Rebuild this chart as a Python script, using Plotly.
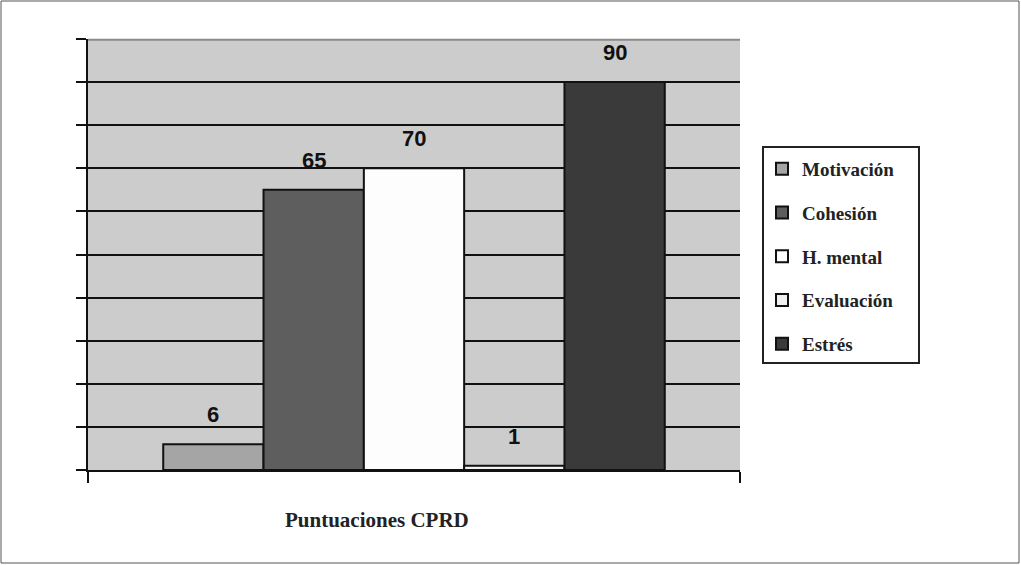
import plotly.graph_objects as go

# CPRD scale scores
categories = ["Motivación", "Cohesión", "H. mental", "Evaluación", "Estrés"]
scores = [6, 65, 70, 1, 90]
bar_colors = ["#a5a5a5", "#5e5e5e", "#fdfdfd", "#f1f1f1", "#3a3a3a"]
y_ticks = list(range(0, 101, 10))
axis_title = "Puntuaciones CPRD"

W, H = 1021, 565
L, R, T, B = 88, 281, 39, 95
pw, ph = W - L - R, H - T - B


def px_x(p):
    return (p - L) / pw


def px_y(p):
    return (H - B - p) / ph


fig = go.Figure()
for i, (name, val, col) in enumerate(zip(categories, scores, bar_colors)):
    fig.add_trace(go.Bar(
        x=[i], y=[val], name=f"<b>{name}</b>", width=1,
        marker=dict(color=col, line=dict(color="#111111", width=2)),
        legendgroup=name,
    ))
    fig.add_annotation(
        x=i, y=val, text=f"<b>{val}</b>", showarrow=False,
        yanchor="bottom", yshift=15,
        font=dict(family="Liberation Sans, Arial", size=22, color="#111111"),
    )

# top edge line of the value area
fig.add_shape(
    type="line", xref="paper", yref="paper", x0=0, x1=1, y0=0.998, y1=0.998,
    line=dict(color="#8a8a8a", width=2), layer="above",
)

# legend box
fig.add_shape(
    type="rect", xref="paper", yref="paper",
    x0=px_x(763), x1=px_x(919), y0=px_y(363), y1=px_y(147),
    line=dict(color="#222222", width=2), fillcolor="white", layer="above",
)

# x-axis caption
fig.add_annotation(
    x=px_x(377), y=px_y(520), xref="paper", yref="paper",
    text=f"<b>{axis_title}</b>", showarrow=False, xanchor="center", yanchor="middle",
    font=dict(family="Liberation Serif, Times New Roman", size=21, color="#222222"),
)

# outer frame around the whole figure
fig.add_shape(
    type="rect", xref="paper", yref="paper",
    x0=px_x(1), x1=px_x(W - 2), y0=px_y(H - 2), y1=px_y(1),
    line=dict(color="#555555", width=1), fillcolor="rgba(0,0,0,0)", layer="below",
)

fig.update_layout(
    width=W, height=H,
    margin=dict(l=L, r=R, t=T, b=B, pad=0),
    paper_bgcolor="white",
    plot_bgcolor="#cccccc",
    barmode="overlay",
    showlegend=True,
    legend=dict(
        x=px_x(762), y=px_y(150), xanchor="left", yanchor="top",
        bgcolor="rgba(0,0,0,0)", borderwidth=0,
        font=dict(family="Liberation Serif, Times New Roman", size=19, color="#222222"),
        tracegroupgap=16, itemsizing="constant",
    ),
    xaxis=dict(
        range=[-1.25, 5.25], showgrid=False, zeroline=False,
        showline=True, linecolor="#111111", linewidth=2,
        tickvals=[-1.25, 5.25], ticks="outside", ticklen=11, tickwidth=2,
        tickcolor="#111111", showticklabels=False,
    ),
    yaxis=dict(
        range=[0, 100], tickvals=y_ticks, showticklabels=False,
        showgrid=True, gridcolor="#111111", gridwidth=2, zeroline=False,
        showline=True, linecolor="#111111", linewidth=2,
        ticks="outside", ticklen=10, tickwidth=2, tickcolor="#111111",
    ),
)

fig.write_html("out.html")
